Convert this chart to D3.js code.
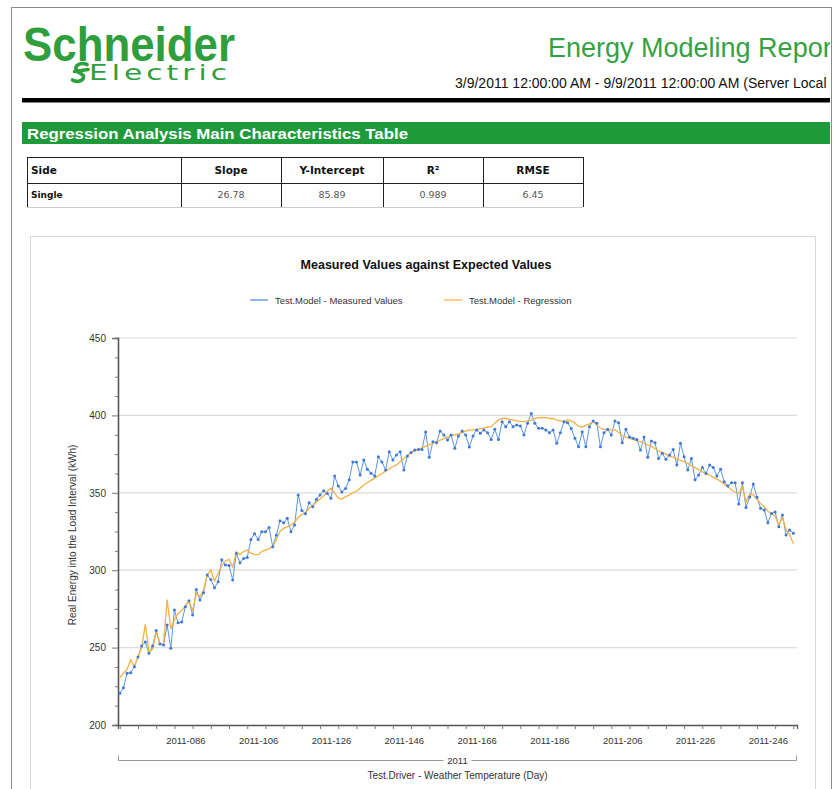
<!DOCTYPE html>
<html><head><meta charset="utf-8">
<script src="https://cdn.jsdelivr.net/npm/d3@7"></script>
<style>body{margin:0;background:#fff} svg{display:block}</style>
</head><body><svg id="c" width="840" height="789"></svg>
<script>
// ---------- data ----------
const reportTitle = "Energy Modeling Report";
const dateRange = "3/9/2011 12:00:00 AM - 9/9/2011 12:00:00 AM (Server Local Time)";
const bannerTitle = "Regression Analysis Main Characteristics Table";
const tableHeaders = ["Side", "Slope", "Y-Intercept", "R\u00B2", "RMSE"];
const tableRow = ["Single", "26.78", "85.89", "0.989", "6.45"];
const chartTitle = "Measured Values against Expected Values";
const seriesNames = ["Test.Model - Measured Values", "Test.Model - Regression"];
const yTitle = "Real Energy into the Load Interval (kWh)";
const xTitle = "Test.Driver - Weather Temperature  (Day)";
const yearLabel = "2011";
const startDay = 68; // day of year of first point (3/9/2011)
const measured = [220.5,224,233.4,233.8,237.7,244,251,253.6,246.3,251,
261,252.3,251.7,264.6,249.5,274.3,266,266.5,276.4,280.3,
271,287.6,280.7,285.5,296.9,294,288.6,292.6,306.8,303.4,
303,293.7,310.8,304.8,307.6,308.2,319.8,323.6,319.8,324.9,
324.9,327.6,315.2,322.7,332,330.6,333.5,324.9,329.2,348.6,
338.5,336.5,343.6,341,345.8,348.6,351.4,349.6,346.4,360.9,
354.4,350.5,352.7,358.5,369.9,369.9,361.5,371.2,365.2,362.6,
360.9,373.3,369.9,364.7,376.5,371.2,374.4,376.5,364.7,373.8,
376,377.6,378,378,389.3,372.9,383,382.3,390,387.3,
384.1,387.3,378.7,386.7,390,387.3,379.6,386.7,390.6,388.5,
390.6,388.8,384.5,391,384.5,395.9,392.7,395.9,392.7,393.8,
393.2,387.3,394.9,401.3,394.9,391.7,391.7,390.6,388.8,390.6,
382,388.8,395.9,395.2,391.5,385.2,379.8,389.5,379.8,392.7,
396.4,394.9,379.8,388.8,391,387.3,396.4,395.2,382.3,391,
386.1,385.2,384.5,377.6,386.1,372.9,383.5,382.3,372.2,375.5,
371.6,374.4,378,367.9,382,373.3,364.7,372.2,358.5,361.5,
366.3,362.5,367.9,366.3,360.9,365.2,357.2,354.4,356.5,356.5,
342.8,356.5,340.5,347.3,355.7,347.1,340,338.9,330.6,336.6,
337.6,328,335.6,322.7,326,323.8];
const regression = [230.5,233.5,236,242,238,244,250,265,247,249,
260,253,252,281,262,268,272,274,277,280,
274,285,283,287,297,300,293,298,303,306,
307,302,312,310,312,313,311,310,310,312,
313,314,315,320,325,327,328,329,331,334,
336,337,340,342,344,346,348,351,353,350,
346.5,346,347.5,348.5,350,351,353,355,356.5,358,
359.5,361,362.5,364,365.5,367,368,370,372,374,
376,377,378,379,380,381,382,383,384,385,
386,387,387.5,388,389,390,390.5,390.5,391,391.5,
392,392.5,392.7,395,397,398,398,397.5,397,396.5,
396,396,396.5,397,398,398.5,398.7,398.5,398,398,
397,396.5,396,397,396.5,395,393,392.5,393.5,394.5,
396,394,391.7,391,390.6,390.6,390.6,389,387,386,
385.2,384.5,383.5,383,382,381,380,378.5,377,376,
375,373.5,373,372,371,370,369,367.5,366.3,365,
363.5,362.5,361.5,360,359,357.5,355.5,354,352,350.5,
349.6,354,344,349,348.6,346,343,341,338,336.6,
335,329,334,326,323,317];
const yTicks = [200, 250, 300, 350, 400, 450];
const xLabelDays = [86, 106, 126, 146, 166, 186, 206, 226, 246];

// ---------- drawing ----------
const svg = d3.select("#c");
const FONT = "'Liberation Sans', Arial, Helvetica, sans-serif";
const GREEN = "#2f9e3c";

svg.append("defs").append("clipPath").attr("id", "pageclip")
  .append("rect").attr("x", 11).attr("y", 7).attr("width", 819).attr("height", 790);

// page frame
svg.append("rect").attr("x", 11.5).attr("y", 7.5).attr("width", 820).attr("height", 800)
  .attr("fill", "#fff").attr("stroke", "#8a8a8a").attr("stroke-width", 1);

const page = svg.append("g").attr("clip-path", "url(#pageclip)");

// logo
page.append("text").attr("x", 23).attr("y", 61).text("Schneider")
  .attr("font-family", FONT).attr("font-weight", "bold").attr("font-size", 49)
  .attr("textLength", 212).attr("lengthAdjust", "spacingAndGlyphs").attr("fill", GREEN);
page.append("text").attr("x", 89).attr("y", 80).text("Electric")
  .attr("font-family", "'DejaVu Sans', sans-serif").attr("font-size", 22)
  .attr("letter-spacing", 3)
  .attr("textLength", 142).attr("lengthAdjust", "spacingAndGlyphs").attr("fill", GREEN);
page.append("path")
  .attr("d", "M87 64.5 C81 62,74 65,76.5 70.5 C78.5 74.5,84.5 73,83.5 77.5 C82.5 81.5,76 82.5,72.5 80 M74.5 71.5 L88 69.5")
  .attr("fill", "none").attr("stroke", GREEN).attr("stroke-width", 3.6).attr("stroke-linecap", "round");

// report title and date range
page.append("text").attr("x", 548).attr("y", 57).text(reportTitle)
  .attr("font-family", FONT).attr("font-size", 27).attr("fill", "#34a244");
page.append("text").attr("x", 455).attr("y", 88).text(dateRange)
  .attr("font-family", FONT).attr("font-size", 14).attr("fill", "#111");

// black rule
page.append("rect").attr("x", 22).attr("y", 98).attr("width", 810).attr("height", 4.5).attr("fill", "#000");

// green banner
page.append("rect").attr("x", 22).attr("y", 122).attr("width", 810).attr("height", 22).attr("fill", "#1f9a3a");
page.append("text").attr("x", 27).attr("y", 139).text(bannerTitle)
  .attr("font-family", FONT).attr("font-weight", "bold").attr("font-size", 15)
  .attr("textLength", 381).attr("lengthAdjust", "spacingAndGlyphs").attr("fill", "#fff");

// table
const colEdges = [27, 181, 281, 383, 483, 583];
const rowTop = 157, rowMid = 183, rowBot = 207;
const tbl = page.append("g");
tbl.append("line").attr("x1", colEdges[0]).attr("x2", colEdges[5]).attr("y1", rowTop + 0.5).attr("y2", rowTop + 0.5).attr("stroke", "#222");
tbl.append("line").attr("x1", colEdges[0]).attr("x2", colEdges[5]).attr("y1", rowMid + 0.5).attr("y2", rowMid + 0.5).attr("stroke", "#222");
tbl.append("line").attr("x1", colEdges[0]).attr("x2", colEdges[5]).attr("y1", rowBot + 0.5).attr("y2", rowBot + 0.5).attr("stroke", "#ccc");
colEdges.forEach(cx => tbl.append("line").attr("x1", cx + 0.5).attr("x2", cx + 0.5).attr("y1", rowTop).attr("y2", rowBot).attr("stroke", "#222"));
tableHeaders.forEach((h, i) => {
  const left = i === 0;
  tbl.append("text").text(h)
    .attr("x", left ? colEdges[0] + 4 : (colEdges[i] + colEdges[i + 1]) / 2)
    .attr("y", 174).attr("text-anchor", left ? "start" : "middle")
    .attr("font-family", "'DejaVu Sans', sans-serif").attr("font-weight", "bold").attr("font-size", 10.5).attr("fill", "#111");
});
tableRow.forEach((v, i) => {
  const left = i === 0;
  tbl.append("text").text(v)
    .attr("x", left ? colEdges[0] + 4 : (colEdges[i] + colEdges[i + 1]) / 2)
    .attr("y", 198).attr("text-anchor", left ? "start" : "middle")
    .attr("font-family", "'DejaVu Sans', sans-serif").attr("font-weight", left ? "bold" : "normal")
    .attr("font-size", left ? 9 : 9.5).attr("fill", left ? "#111" : "#555");
});

// chart frame
page.append("rect").attr("x", 30.5).attr("y", 236.5).attr("width", 785).attr("height", 600)
  .attr("fill", "#fff").attr("stroke", "#d8d8d8");

page.append("text").attr("x", 426).attr("y", 269).attr("text-anchor", "middle").text(chartTitle)
  .attr("font-family", FONT).attr("font-weight", "bold").attr("font-size", 12.5).attr("fill", "#111");

// legend
const legColors = ["#4a86e0", "#f5b142"];
const legX = [250, 444];
seriesNames.forEach((n, i) => {
  page.append("line").attr("x1", legX[i]).attr("x2", legX[i] + 18).attr("y1", 300).attr("y2", 300)
    .attr("stroke", legColors[i]).attr("stroke-width", 1.2);
  page.append("text").attr("x", legX[i] + 25).attr("y", 303.5).text(n)
    .attr("font-family", FONT).attr("font-size", 9.5).attr("fill", "#333");
});

// scales
const x = d3.scaleLinear().domain([67.5, 254]).range([118, 797]);
const y = d3.scaleLinear().domain([200, 450]).range([725, 338]);
const days = measured.map((_, i) => startDay + i);

// gridlines
const grid = page.append("g");
grid.selectAll("line").data(yTicks.filter(t => t > 200)).join("line")
  .attr("x1", 118).attr("x2", 797).attr("y1", d => y(d)).attr("y2", d => y(d))
  .attr("stroke", "#dcdcdc").attr("stroke-width", 1.2);

// y axis
const minorY = d3.range(200, 450.1, 12.5).filter(v => !yTicks.includes(v));
const yMinor = page.append("g").attr("transform", "translate(118,0)")
  .call(d3.axisLeft(y).tickValues(minorY).tickSize(3).tickFormat(""));
const yAx = page.append("g").attr("transform", "translate(118,0)")
  .call(d3.axisLeft(y).tickValues(yTicks).tickSize(6).tickPadding(6));
[yMinor, yAx].forEach(g => {
  g.select(".domain").attr("stroke", "#555").attr("stroke-width", 1.3);
  g.selectAll(".tick line").attr("stroke", "#777");
});
yAx.selectAll(".tick text").attr("font-family", FONT).attr("font-size", 10).attr("fill", "#333");

page.append("text").attr("transform", "translate(76,535) rotate(-90)").attr("text-anchor", "middle")
  .text(yTitle).attr("font-family", FONT).attr("font-size", 10).attr("fill", "#333");

// x axis
const minorX = d3.range(startDay, 254, 5);
const xAx = page.append("g").attr("transform", "translate(0,725)")
  .call(d3.axisBottom(x).tickValues(minorX).tickSize(4).tickFormat(""));
xAx.select(".domain").attr("stroke", "#555").attr("stroke-width", 1.3);
xAx.selectAll(".tick line").attr("stroke", "#777");
const xLab = page.append("g").attr("transform", "translate(0,725)")
  .call(d3.axisBottom(x).tickValues(xLabelDays).tickSize(0).tickPadding(12)
    .tickFormat(d => "2011-" + String(d).padStart(3, "0")));
xLab.select(".domain").remove();
xLab.selectAll(".tick text").attr("font-family", FONT).attr("font-size", 9.5).attr("fill", "#333");

// year bracket
const bx0 = 118.5, bx1 = 796.5, by = 760.5, midX = (bx0 + bx1) / 2;
const br = page.append("g").attr("stroke", "#999").attr("fill", "none");
br.append("path").attr("d", `M${bx0} ${by - 5} V${by} H${midX - 14}`);
br.append("path").attr("d", `M${bx1} ${by - 5} V${by} H${midX + 14}`);
page.append("text").attr("x", midX).attr("y", by + 3.5).attr("text-anchor", "middle").text(yearLabel)
  .attr("font-family", FONT).attr("font-size", 9.5).attr("fill", "#333");
page.append("text").attr("x", midX).attr("y", 779).attr("text-anchor", "middle").text(xTitle)
  .attr("font-family", FONT).attr("font-size", 10).attr("fill", "#333");

// series
const line = d3.line().x((d, i) => x(days[i])).y(d => y(d));
page.append("path").datum(measured).attr("d", line)
  .attr("fill", "none").attr("stroke", "#5b95e6").attr("stroke-width", 1);
page.append("path").datum(regression).attr("d", line)
  .attr("fill", "none").attr("stroke", "#f5b142").attr("stroke-width", 1.3);
page.append("g").selectAll("circle").data(measured).join("circle")
  .attr("cx", (d, i) => x(days[i])).attr("cy", d => y(d)).attr("r", 1.5)
  .attr("fill", "#3f78d6");
</script>
</body></html>
